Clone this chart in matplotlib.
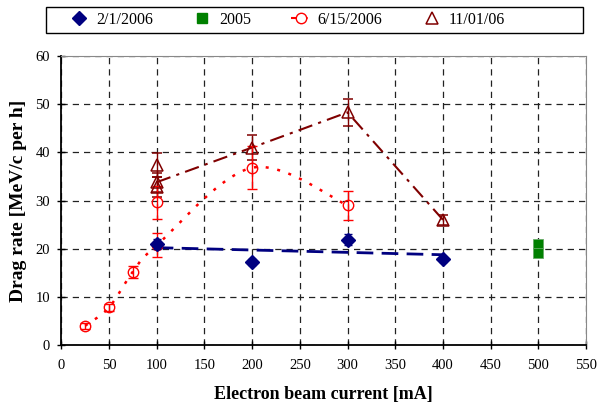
import numpy as np
import matplotlib
matplotlib.use("Agg")
import matplotlib.pyplot as plt
from matplotlib.lines import Line2D
from matplotlib.patches import Rectangle

plt.rcParams['font.family'] = ['Liberation Serif', 'DejaVu Serif']

# ---- data ----
feb_x = [100, 200, 300, 400]
feb_y = [21.0, 17.2, 21.9, 17.8]
feb_err = [1.0, 0.6, 1.2, 0.5]

y2005_x = [500, 500]
y2005_y = [21.0, 19.0]

jun_x = [25, 50, 75, 100, 200, 300]
jun_y = [4.0, 7.8, 15.2, 20.7, 36.8, 29.0]
jun_err = [0.6, 0.8, 1.2, 2.5, 4.5, 3.0]
jun_extra_x = [100]
jun_extra_y = [29.6]
jun_extra_err = [3.4]

nov_x = [100, 200, 300, 400]
nov_y = [33.8, 41.0, 48.3, 26.0]
nov_err = [2.0, 2.5, 2.8, 1.0]
nov_extra_x = [100, 100]
nov_extra_y = [37.3, 32.8]
nov_extra_err = [2.5, 2.0]

x_ticks = list(range(0, 551, 50))
y_ticks = list(range(0, 61, 10))


def smooth(xs, ys, n=40):
    """Excel-like smoothed line (Catmull-Rom Bezier) through the points."""
    P = np.column_stack([xs, ys]).astype(float)
    out = []
    for i in range(len(P) - 1):
        p0 = P[i - 1] if i > 0 else P[i]
        p1, p2 = P[i], P[i + 1]
        p3 = P[i + 2] if i + 2 < len(P) else P[i + 1]
        c1 = p1 + (p2 - p0) / 6.0
        c2 = p2 - (p3 - p1) / 6.0
        t = np.linspace(0, 1, n)[:, None]
        seg = ((1 - t) ** 3) * p1 + 3 * ((1 - t) ** 2) * t * c1 + 3 * (1 - t) * t ** 2 * c2 + t ** 3 * p2
        out.append(seg if i == 0 else seg[1:])
    s = np.vstack(out)
    return s[:, 0], s[:, 1]


navy = '#000080'
green = '#008000'
red = '#FF0000'
dred = '#800000'

fig = plt.figure(figsize=(5.98, 4.07), dpi=100)
ax = fig.add_axes([0.1025, 0.1523, 0.8775, 0.7101])

ax.set_xlim(0, 550)
ax.set_ylim(0, 60)
ax.set_xticks(x_ticks)
ax.set_yticks(y_ticks)
ax.tick_params(direction='inout', length=6, width=1, labelsize=10.5)
ax.tick_params(axis='x', pad=7)
ax.tick_params(axis='y', pad=5)
ax.grid(True, color='#222222', linestyle=(0, (5, 4)), linewidth=0.9)
ax.set_axisbelow(True)
for s in ['left', 'bottom']:
    ax.spines[s].set_linewidth(1.3)
    ax.spines[s].set_color('black')
for s in ['top', 'right']:
    ax.spines[s].set_linewidth(0.8)
    ax.spines[s].set_color('#888888')

# 11/01/06 dash-dot line
ax.plot(nov_x, nov_y, color=dred, linewidth=1.5, linestyle=(0, (7, 3, 1.5, 3)), zorder=2)
# 6/15/2006 dotted smooth line
sx, sy = smooth(jun_x, jun_y)
ax.plot(sx, sy, color=red, linewidth=1.8, linestyle=(0, (1.2, 3.5)), zorder=2)
# 2/1/2006 linear trend line
coef = np.polyfit(feb_x, feb_y, 1)
tx = np.array([min(feb_x), max(feb_x)])
ax.plot(tx, np.polyval(coef, tx), color=navy, linewidth=2, linestyle=(0, (6, 3)), zorder=2)

ax.errorbar(nov_x + nov_extra_x, nov_y + nov_extra_y, yerr=nov_err + nov_extra_err,
            fmt='^', ms=9, mfc='none', mec=dred, mew=1.1, ecolor=dred,
            elinewidth=1, capsize=3.5, zorder=3)
ax.errorbar(jun_x + jun_extra_x, jun_y + jun_extra_y, yerr=jun_err + jun_extra_err,
            fmt='o', ms=7.5, mfc='none', mec=red, mew=1, ecolor=red,
            elinewidth=1, capsize=3.5, zorder=3)
ax.errorbar(feb_x, feb_y, yerr=feb_err, fmt='D', ms=7, color=navy,
            ecolor=navy, elinewidth=1, capsize=3, zorder=4)
ax.plot(y2005_x, y2005_y, 's', ms=6.5, color=green, mec='#66aa66', mew=0.6, zorder=4)

ax.set_xlabel('Electron beam current [mA]', fontsize=13, fontweight='bold', labelpad=10)
ax.set_ylabel('Drag rate [MeV/c per h]', fontsize=14, fontweight='bold', labelpad=6)

handles = [
    Line2D([], [], linestyle='none', marker='D', ms=7, color=navy),
    Line2D([], [], linestyle='none', marker='s', ms=6.5, color=green),
    Line2D([], [], linestyle=(0, (3, 2)), color=red, lw=1.5, marker='o', ms=7.5, mfc='white', mec=red),
    Line2D([], [], linestyle='none', marker='^', ms=9, mfc='none', mec=dred, mew=1.1),
]
labels = ['2/1/2006', '2005', '6/15/2006', '11/01/06']
leg = fig.legend(handles, labels, ncol=4, loc='center left',
                 bbox_to_anchor=(70 / 598, 1 - 20 / 407), fontsize=11.5,
                 frameon=False, handlelength=1.15, columnspacing=2.5,
                 borderpad=0, borderaxespad=0, handletextpad=0.5)
fig.add_artist(Rectangle((46 / 598, 1 - 33 / 407), (583 - 46) / 598, 26 / 407,
                         transform=fig.transFigure, fill=False,
                         edgecolor='black', linewidth=1))

fig.savefig('out.png', dpi=100)
